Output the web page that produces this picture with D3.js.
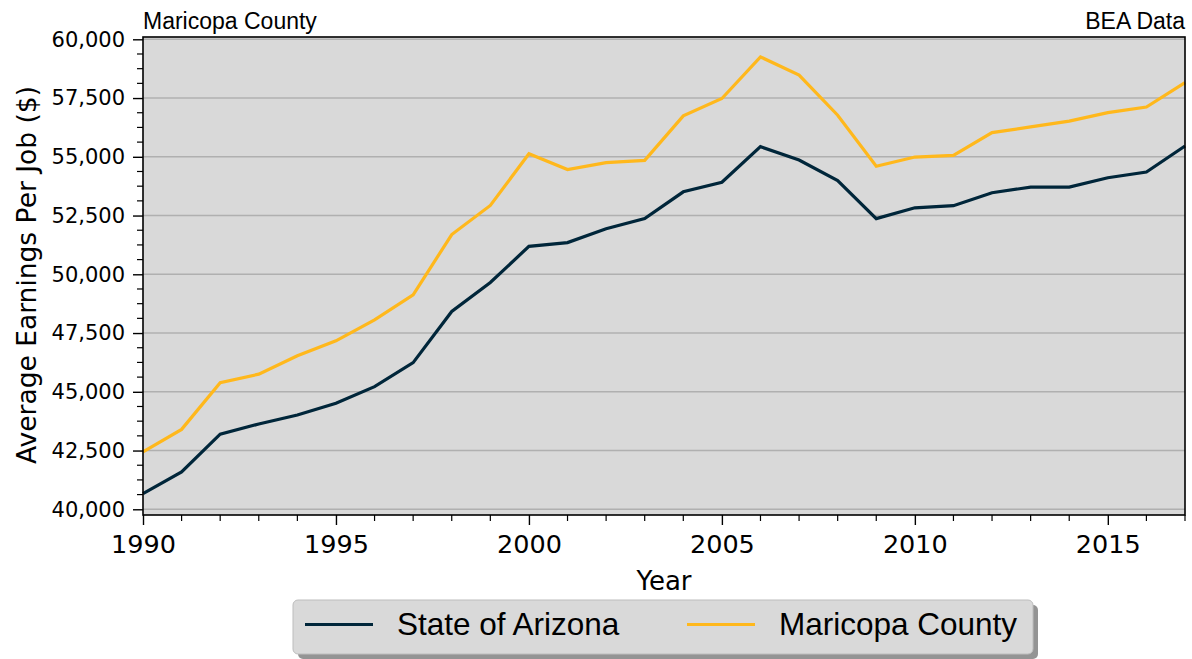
<!DOCTYPE html>
<html>
<head>
<meta charset="utf-8">
<script src="https://cdn.jsdelivr.net/npm/d3@7"></script>
<style>
  body { margin: 0; background: #fff; }
  svg { display: block; }
</style>
</head>
<body>
<div id="chart"></div>
<script>
var years = d3.range(1990, 2018);
var arizona = [40670, 41590, 43200, 43630, 44010, 44510, 45220, 46240, 48420, 49650,
    51190, 51350, 51940, 52370, 53510, 53920, 55430, 54860, 53990, 52370,
    52830, 52920, 53470, 53710, 53710, 54110, 54350, 55460];
var maricopa = [42440, 43400, 45390, 45750, 46530, 47170, 48060, 49130, 51690, 52930,
    55130, 54460, 54750, 54850, 56740, 57480, 59250, 58480, 56770, 54600,
    54990, 55060, 56030, 56270, 56520, 56880, 57120, 58160];
var yTicks = [40000, 42500, 45000, 47500, 50000, 52500, 55000, 57500, 60000];
var xTicks = [1990, 1995, 2000, 2005, 2010, 2015];
var seriesNames = ["State of Arizona", "Maricopa County"];
var seriesColors = ["#00263a", "#ffb81c"];

var W = 1192, H = 659;
var plot = { left: 143, right: 1185, top: 37, bottom: 515 };

var svg = d3.select("#chart").append("svg")
    .attr("width", W)
    .attr("height", H);

var x = d3.scaleLinear().domain([1990, 2017]).range([plot.left, plot.right]);
var y = d3.scaleLinear().domain([39757, 60098]).range([plot.bottom, plot.top]);

// plot background
svg.append("rect")
    .attr("x", plot.left).attr("y", plot.top)
    .attr("width", plot.right - plot.left).attr("height", plot.bottom - plot.top)
    .attr("fill", "#d9d9d9");

// gridlines
svg.append("g").selectAll("line")
    .data(yTicks)
    .enter().append("line")
    .attr("x1", plot.left).attr("x2", plot.right)
    .attr("y1", function (d) { return y(d); })
    .attr("y2", function (d) { return y(d); })
    .attr("stroke", "#b0b0b0")
    .attr("stroke-width", 1.6);

// series
var line = d3.line()
    .x(function (d, i) { return x(years[i]); })
    .y(function (d) { return y(d); });

[arizona, maricopa].forEach(function (s, i) {
    svg.append("path")
        .datum(s)
        .attr("d", line)
        .attr("fill", "none")
        .attr("stroke", seriesColors[i])
        .attr("stroke-width", 3.2)
        .attr("stroke-linejoin", "miter");
});

// frame
svg.append("rect")
    .attr("x", plot.left).attr("y", plot.top)
    .attr("width", plot.right - plot.left).attr("height", plot.bottom - plot.top)
    .attr("fill", "none")
    .attr("stroke", "#000")
    .attr("stroke-width", 1.6);

// y axis
var yAxis = d3.axisLeft(y)
    .tickValues(yTicks)
    .tickSize(10)
    .tickPadding(8)
    .tickFormat(d3.format(","));
var gy = svg.append("g")
    .attr("transform", "translate(" + plot.left + ",0)")
    .call(yAxis);
gy.select(".domain").remove();
gy.selectAll(".tick line").attr("stroke-width", 1.4);
gy.selectAll("text")
    .style("font-family", "DejaVu Sans")
    .style("font-size", "21px")
    .attr("fill", "#000");

var yMinor = d3.range(40000, 60001, 625).filter(function (d) { return d % 2500 !== 0; });
svg.append("g").selectAll("line")
    .data(yMinor)
    .enter().append("line")
    .attr("x1", plot.left - 6).attr("x2", plot.left)
    .attr("y1", function (d) { return y(d); })
    .attr("y2", function (d) { return y(d); })
    .attr("stroke", "#000")
    .attr("stroke-width", 1.2);

// x axis
var xAxis = d3.axisBottom(x)
    .tickValues(xTicks)
    .tickSize(10)
    .tickPadding(10)
    .tickFormat(d3.format("d"));
var gx = svg.append("g")
    .attr("transform", "translate(0," + plot.bottom + ")")
    .call(xAxis);
gx.select(".domain").remove();
gx.selectAll(".tick line").attr("stroke-width", 1.4);
gx.selectAll("text")
    .style("font-family", "DejaVu Sans")
    .style("font-size", "25.5px")
    .attr("fill", "#000");

svg.append("g").selectAll("line")
    .data(years.filter(function (d) { return d % 5 !== 0; }))
    .enter().append("line")
    .attr("x1", function (d) { return x(d); })
    .attr("x2", function (d) { return x(d); })
    .attr("y1", plot.bottom).attr("y2", plot.bottom + 6)
    .attr("stroke", "#000")
    .attr("stroke-width", 1.2);

// axis titles
svg.append("text")
    .attr("transform", "translate(36," + ((plot.top + plot.bottom) / 2 - 1) + ") rotate(-90)")
    .attr("text-anchor", "middle")
    .style("font-family", "DejaVu Sans")
    .style("font-size", "26.5px")
    .text("Average Earnings Per Job ($)");

svg.append("text")
    .attr("x", (plot.left + plot.right) / 2)
    .attr("y", 590)
    .attr("text-anchor", "middle")
    .style("font-family", "DejaVu Sans")
    .style("font-size", "26px")
    .text("Year");

// corner titles
svg.append("text")
    .attr("x", plot.left).attr("y", 29)
    .style("font-family", "Liberation Sans")
    .style("font-size", "23px")
    .text("Maricopa County");

svg.append("text")
    .attr("x", plot.right).attr("y", 29)
    .attr("text-anchor", "end")
    .style("font-family", "Liberation Sans")
    .style("font-size", "23px")
    .text("BEA Data");

// legend
var legend = svg.append("g").attr("transform", "translate(293,600)");
legend.append("rect")
    .attr("x", 5).attr("y", 5)
    .attr("width", 740).attr("height", 54)
    .attr("rx", 5)
    .attr("fill", "#666")
    .attr("opacity", 0.7);
legend.append("rect")
    .attr("x", 0).attr("y", 0)
    .attr("width", 740).attr("height", 54)
    .attr("rx", 5)
    .attr("fill", "#d9d9d9")
    .attr("stroke", "#bdbdbd")
    .attr("stroke-width", 1);

var legendX = [12, 394];
seriesNames.forEach(function (name, i) {
    legend.append("line")
        .attr("x1", legendX[i]).attr("x2", legendX[i] + 68)
        .attr("y1", 24.5).attr("y2", 24.5)
        .attr("stroke", seriesColors[i])
        .attr("stroke-width", 3.2);
    legend.append("text")
        .attr("x", legendX[i] + 92)
        .attr("y", 34.5)
        .style("font-family", "Liberation Sans")
        .style("font-size", "31.5px")
        .text(name);
});
</script>
</body>
</html>
